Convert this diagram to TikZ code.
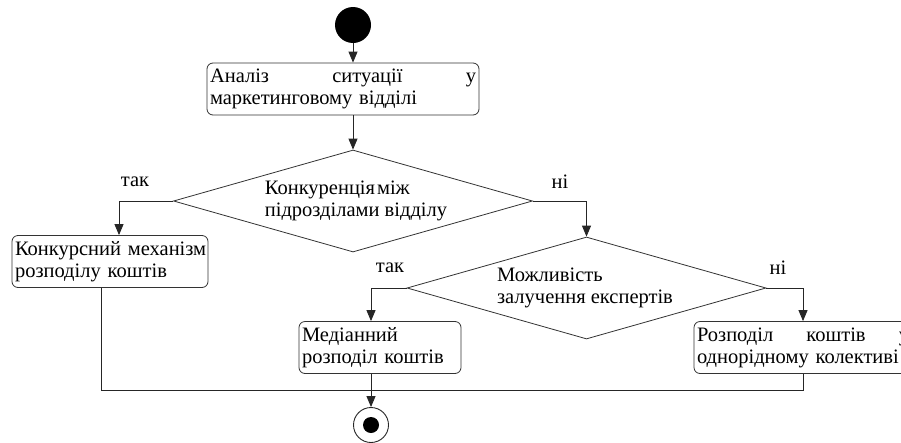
\documentclass[tikz,border=0pt]{standalone}
\usepackage{fontspec}
\setmainfont{Liberation Serif}
\usetikzlibrary{shapes.geometric,arrows.meta}
\begin{document}
\begin{tikzpicture}[x=1pt,y=-1pt,
  every node/.style={font=\rmfamily\fontsize{20.5}{22}\selectfont},
  conn/.style={draw=black!85, line width=0.9pt},
  arr/.style={conn,-{Triangle[length=11pt,width=9pt]}},
  actbox/.style={draw=black!80,line width=0.8pt,rounded corners=6pt,inner xsep=3pt,inner ysep=0pt,minimum height=52pt,align=left},
  decision/.style={diamond,draw=black!80,line width=0.8pt,minimum width=359pt,minimum height=102pt,inner sep=0pt,shape aspect=3.5},
  dtext/.style={inner sep=0pt,align=left},
  lbl/.style={inner sep=0pt}]
\useasboundingbox (0,0) rectangle (901,442);
\clip (0,0) rectangle (901,442);
\fill[white] (0,0) rectangle (901,442);
% nodes
\node[circle,fill=black,minimum size=36pt,inner sep=0pt] (start) at (353,25) {};
\node[actbox,text width=266pt] (box1) at (343,89) {Аналіз\hfill ситуації\hfill у\\маркетинговому~відділі};
\node[decision] (d1) at (353,201) {};
\node[dtext] (d1t) at (356,201) {Конкуренція\hspace{2pt}між\\підрозділами~відділу};
\node[lbl] (tak1) at (135,182) {так};
\node[lbl] (ni1) at (560,182) {ні};
\node[actbox,text width=190pt] (box2) at (110,261.5) {Конкурсний~механізм\\розподілу~коштів};
\node[decision] (d2) at (586.5,288) {};
\node[dtext] (d2t) at (585,287.5) {Можливість\\залучення~експертів};
\node[lbl] (tak2) at (390,268) {так};
\node[lbl] (ni2) at (778,268) {ні};
\node[actbox,text width=156pt] (box3) at (380,347.5) {Медіанний\\розподіл~коштів};
\node[actbox,text width=212pt] (box4) at (803,347.5) {Розподіл\hfill коштів\hfill у\\однорідному~колективі};
\node[circle,draw=black!85,line width=0.9pt,minimum size=35pt,inner sep=0pt] (end) at (371,425) {};
\node[circle,fill=black,minimum size=16pt,inner sep=0pt] (enddot) at (end.center) {};
% connectors
\draw[arr] (start) -- (start |- box1.north);
\draw[arr] (start |- box1.south) -- (d1.north);
\draw[arr] (d1.west) -| ([xshift=9pt]box2.north);
\draw[arr] (d1.east) -| (d2.north);
\draw[arr] (d2.west) -| ([xshift=-9pt]box3.north);
\draw[arr] (d2.east) -| (box4.north);
\draw[conn] ([xshift=-9pt]box2.south) -- ++(0,103) -| (box4.south);
\draw[arr] ([xshift=-9pt]box3.south) -- (end);
\end{tikzpicture}
\end{document}
